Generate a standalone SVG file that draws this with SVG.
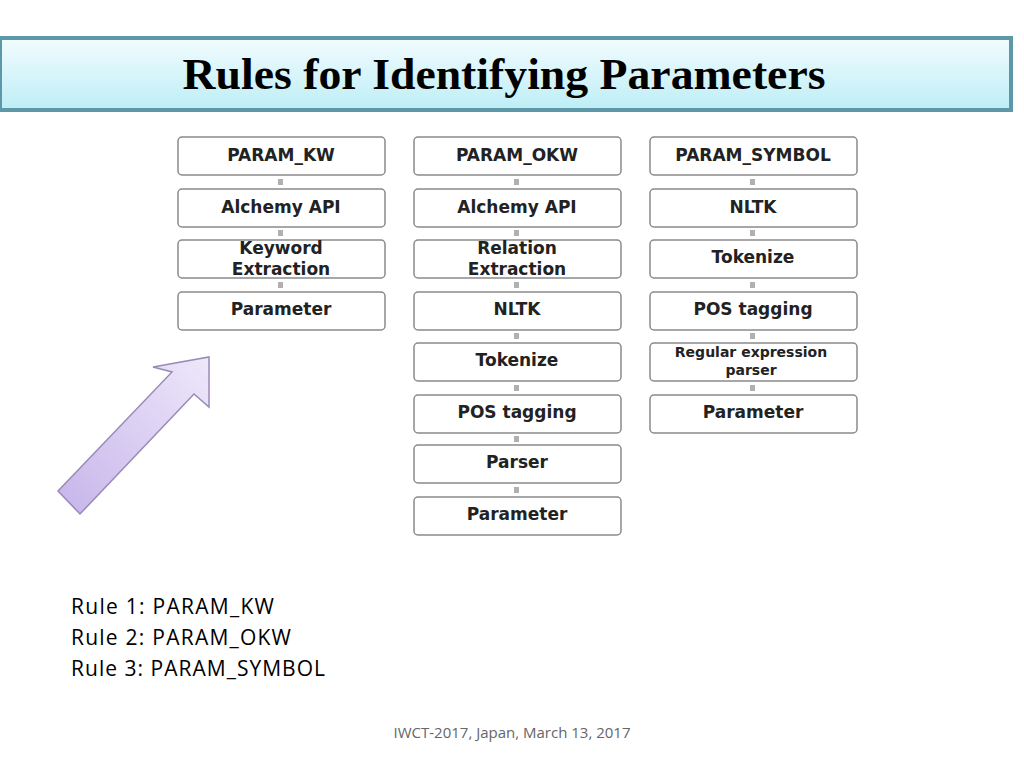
<svg xmlns="http://www.w3.org/2000/svg" width="1024" height="768" viewBox="0 0 1024 768">
<defs>
<linearGradient id="tg" x1="0" y1="0" x2="0" y2="1"><stop offset="0" stop-color="#f2fcfe"/><stop offset="1" stop-color="#bdeef6"/></linearGradient>
<linearGradient id="ag" x1="0" y1="1" x2="1" y2="0"><stop offset="0" stop-color="#c6b4ea"/><stop offset="1" stop-color="#eee8fa"/></linearGradient>
</defs>
<style>
.b{fill:#fff;stroke:#8a8a8a;stroke-width:1.5}
.t{font-family:"DejaVu Sans",sans-serif;font-weight:bold;font-size:17px;fill:#222;text-anchor:middle}
.s{font-size:14px}
.c{fill:#b0b0b0}
.r{font-family:"Open Sans","Liberation Sans",sans-serif;font-size:21px;fill:#000}
</style>
<rect width="1024" height="768" fill="#fff"/>
<rect x="0" y="38" width="1011" height="72" fill="url(#tg)" stroke="#5d98a8" stroke-width="4"/>
<text x="504" y="89" font-family="Liberation Serif,serif" font-weight="bold" font-size="44" text-anchor="middle" textLength="643" lengthAdjust="spacingAndGlyphs">Rules  for Identifying Parameters</text>
<g id="connectors">
<rect class="c" x="278" y="179" width="5" height="6"/><rect class="c" x="278" y="230" width="5" height="6"/><rect class="c" x="278" y="282" width="5" height="6"/>
<rect class="c" x="514" y="179" width="5" height="6"/><rect class="c" x="514" y="230" width="5" height="6"/><rect class="c" x="514" y="282" width="5" height="6"/><rect class="c" x="514" y="333" width="5" height="6"/><rect class="c" x="514" y="385" width="5" height="6"/><rect class="c" x="514" y="436" width="5" height="6"/><rect class="c" x="514" y="487" width="5" height="6"/>
<rect class="c" x="750" y="179" width="5" height="6"/><rect class="c" x="750" y="230" width="5" height="6"/><rect class="c" x="750" y="282" width="5" height="6"/><rect class="c" x="750" y="333" width="5" height="6"/><rect class="c" x="750" y="385" width="5" height="6"/>
</g>
<g id="c1">
<g id="kw1"><rect class="b" x="178" y="137" width="207" height="38" rx="4"/><text class="t" x="281" y="161">PARAM_KW</text></g>
<g id="kw2"><rect class="b" x="178" y="189" width="207" height="38" rx="4"/><text class="t" x="281" y="213">Alchemy API</text></g>
<g id="kw3"><rect class="b" x="178" y="240" width="207" height="38" rx="4"/><text class="t" x="281" y="254">Keyword</text><text class="t" x="281" y="275">Extraction</text></g>
<g id="kw4"><rect class="b" x="178" y="292" width="207" height="38" rx="4"/><text class="t" x="281" y="315">Parameter</text></g>
</g>
<g id="c2">
<g id="o1"><rect class="b" x="414" y="137" width="207" height="38" rx="4"/><text class="t" x="517" y="161">PARAM_OKW</text></g>
<g id="o2"><rect class="b" x="414" y="189" width="207" height="38" rx="4"/><text class="t" x="517" y="213">Alchemy API</text></g>
<g id="o3"><rect class="b" x="414" y="240" width="207" height="38" rx="4"/><text class="t" x="517" y="254">Relation</text><text class="t" x="517" y="275">Extraction</text></g>
<g id="o4"><rect class="b" x="414" y="292" width="207" height="38" rx="4"/><text class="t" x="517" y="315">NLTK</text></g>
<g id="o5"><rect class="b" x="414" y="343" width="207" height="38" rx="4"/><text class="t" x="517" y="366">Tokenize</text></g>
<g id="o6"><rect class="b" x="414" y="395" width="207" height="38" rx="4"/><text class="t" x="517" y="418">POS tagging</text></g>
<g id="o7"><rect class="b" x="414" y="445" width="207" height="38" rx="4"/><text class="t" x="517" y="468">Parser</text></g>
<g id="o8"><rect class="b" x="414" y="497" width="207" height="38" rx="4"/><text class="t" x="517" y="520">Parameter</text></g>
</g>
<g id="c3">
<g id="s1"><rect class="b" x="650" y="137" width="207" height="38" rx="4"/><text class="t" x="753" y="161">PARAM_SYMBOL</text></g>
<g id="s2"><rect class="b" x="650" y="189" width="207" height="38" rx="4"/><text class="t" x="753" y="213">NLTK</text></g>
<g id="s3"><rect class="b" x="650" y="240" width="207" height="38" rx="4"/><text class="t" x="753" y="263">Tokenize</text></g>
<g id="s4"><rect class="b" x="650" y="292" width="207" height="38" rx="4"/><text class="t" x="753" y="315">POS tagging</text></g>
<g id="s5"><rect class="b" x="650" y="343" width="207" height="38" rx="4"/><text class="t s" x="751" y="357">Regular expression</text><text class="t s" x="751" y="375">parser</text></g>
<g id="s6"><rect class="b" x="650" y="395" width="207" height="38" rx="4"/><text class="t" x="753" y="418">Parameter</text></g>
</g>
<polygon points="209,357 209,407 194,394 80,514 58,491 172,372 153,367" fill="url(#ag)" stroke="#9a8ab8" stroke-width="1.5"/>
<text class="r" x="71" y="614" textLength="203">Rule 1: PARAM_KW</text>
<text class="r" x="71" y="645" textLength="220">Rule 2: PARAM_OKW</text>
<text class="r" x="71" y="676" textLength="254">Rule 3: PARAM_SYMBOL</text>
<text x="512" y="738" font-family="Open Sans,Liberation Sans,sans-serif" font-size="15" fill="#666" text-anchor="middle">IWCT-2017, Japan, March 13, 2017</text>
</svg>
